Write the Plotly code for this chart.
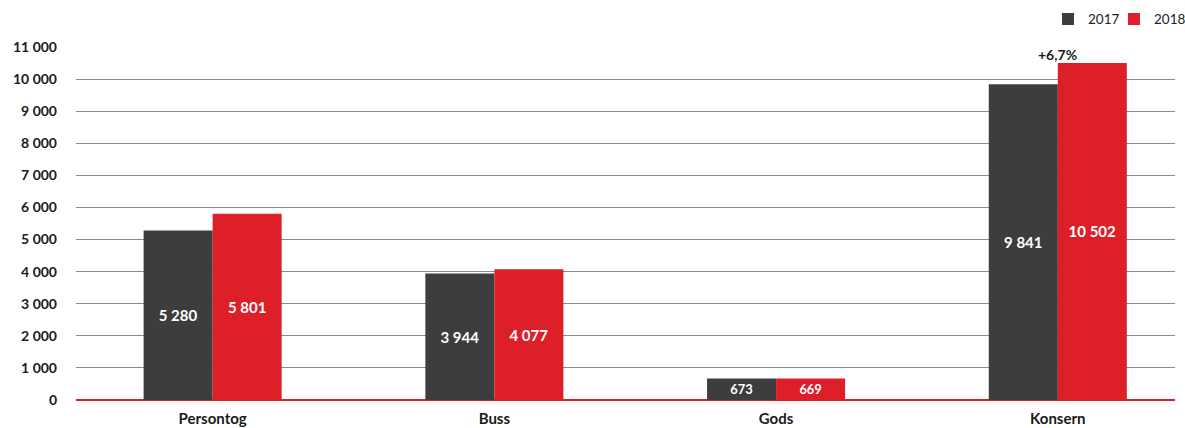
import plotly.graph_objects as go

categories = ["Persontog", "Buss", "Gods", "Konsern"]
values_2017 = [5280, 3944, 673, 9841]
values_2018 = [5801, 4077, 669, 10502]
labels_2017 = ["5 280", "3 944", "673", "9 841"]
labels_2018 = ["5 801", "4 077", "669", "10 502"]
y_tickvals = [0, 1000, 2000, 3000, 4000, 5000, 6000, 7000, 8000, 9000, 10000, 11000]
y_ticktext = ["0", "1 000", "2 000", "3 000", "4 000", "5 000", "6 000", "7 000",
              "8 000", "9 000", "10 000", "11 000"]
annotation_text = "+6,7%"

DARK = "#3d3d3d"
RED = "#dc1f28"
FONT = "Lato, 'Open Sans', sans-serif"

fig = go.Figure()
fig.add_trace(go.Bar(
    name="2017", x=categories, y=values_2017, text=labels_2017,
    marker=dict(color=DARK, line=dict(width=0)),
    textposition="inside", insidetextanchor="middle",
    textfont=dict(color="white", size=15, family=FONT, weight="bold"),
    cliponaxis=False, legend="legend",
))
fig.add_trace(go.Bar(
    name="2018", x=categories, y=values_2018, text=labels_2018,
    marker=dict(color=RED, line=dict(width=0)),
    textposition="inside", insidetextanchor="middle",
    textfont=dict(color="white", size=15, family=FONT, weight="bold"),
    cliponaxis=False, legend="legend2",
))

fig.add_annotation(
    x=categories[3], y=values_2018[3], text=annotation_text,
    showarrow=False, yanchor="bottom", yshift=-2,
    font=dict(size=14, family=FONT, color="#1a1a1a", weight="bold"),
)

legend_common = dict(
    orientation="h", xanchor="left", y=0.955, yanchor="middle",
    yref="container", xref="container",
    font=dict(size=13.5, family=FONT, color="#222"),
    itemwidth=30, bgcolor="rgba(0,0,0,0)",
)

fig.update_layout(
    width=1185, height=428,
    margin=dict(l=76, r=10, t=47, b=28, autoexpand=False),
    paper_bgcolor="white", plot_bgcolor="white",
    barmode="group", bargap=0.51, bargroupgap=0,
    font=dict(family=FONT, color="#1a1a1a"),
    showlegend=True,
    legend=dict(x=1048 / 1185, **legend_common),
    legend2=dict(x=1114 / 1185, **legend_common),
    xaxis=dict(
        range=[-0.485, 3.416], showgrid=False, showline=False, zeroline=False,
        ticks="", automargin=False, ticklabelstandoff=8,
        tickfont=dict(size=15, family=FONT, color="#1a1a1a", weight="bold"),
        fixedrange=True,
    ),
    yaxis=dict(
        range=[0, 11000], tickvals=y_tickvals, ticktext=y_ticktext,
        showgrid=True, gridcolor="#8a8a8a", gridwidth=1,
        zeroline=True, zerolinecolor=RED, zerolinewidth=1.5,
        showline=False, ticks="", automargin=False,
        tickfont=dict(size=14, family=FONT, color="#1a1a1a", weight="bold"),
        ticklabelstandoff=18,
    ),
)

fig.write_html(
    "out.html",
    config={"displayModeBar": False},
    post_script="document.body.style.margin='0';document.body.style.overflow='hidden';",
)
